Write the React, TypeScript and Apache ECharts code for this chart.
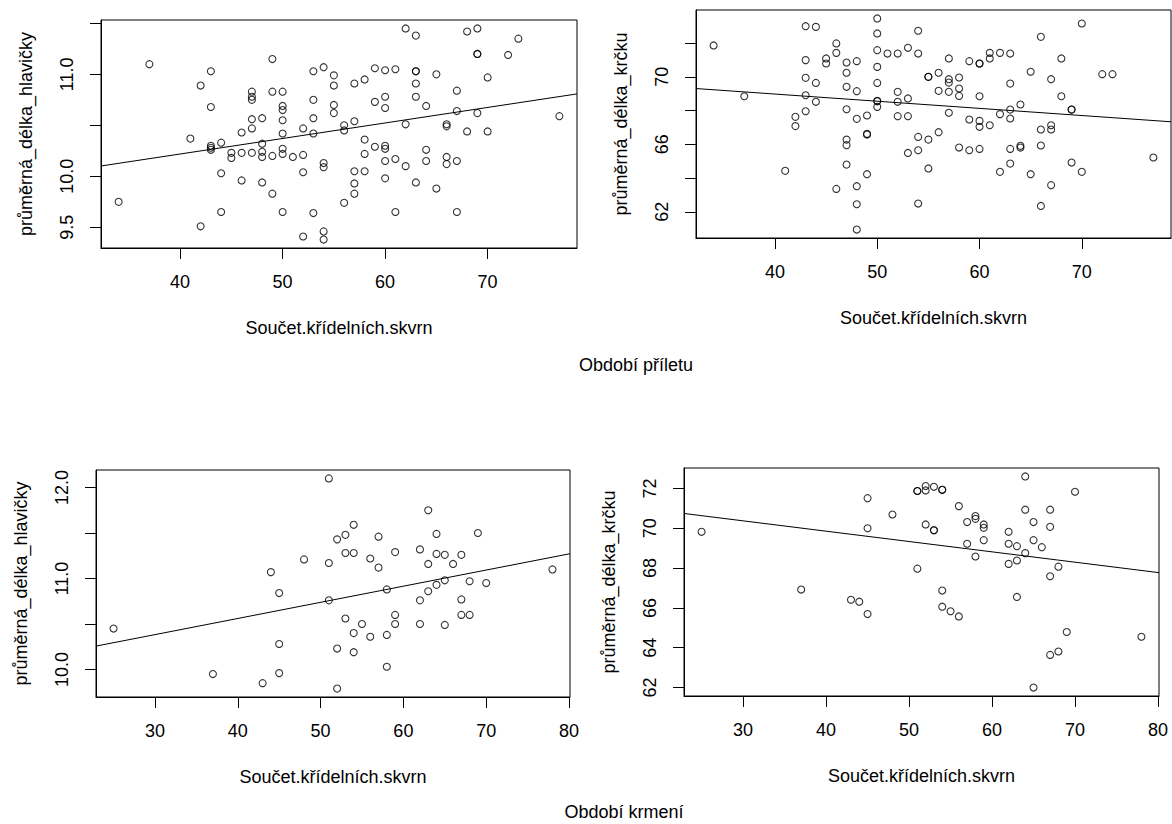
import React, { useEffect, useRef } from 'react';
import * as echarts from 'echarts';

const FONT = '"Liberation Sans", Arial, Helvetica, sans-serif';
const INK = '#000';

const X_TITLE = 'Součet.křídelních.skvrn';
const Y_HEAD = 'průměrná_délka_hlavičky';
const Y_NECK = 'průměrná_délka_krčku';
const TOP_CAPTION = 'Období příletu';
const BOTTOM_CAPTION = 'Období krmení';

// Období příletu – head length vs wing spot sum
const ARRIVAL_HEAD: [number, number][] = [
  [34, 9.75], [37, 11.1], [41, 10.37], [42, 10.89], [42, 9.51], [43, 11.03], [43, 10.68], [43, 10.3], [43, 10.28], [43, 10.26],
  [44, 10.33], [44, 10.03], [44, 9.65], [45, 10.23], [45, 10.18], [46, 10.43], [46, 10.23], [46, 9.96], [47, 10.83], [47, 10.78],
  [47, 10.75], [47, 10.56], [47, 10.47], [47, 10.23], [48, 10.57], [48, 10.32], [48, 10.24], [48, 10.19], [48, 9.94], [49, 11.15],
  [49, 10.83], [49, 10.2], [49, 9.83], [50, 10.83], [50, 10.69], [50, 10.65], [50, 10.55], [50, 10.42], [50, 10.27], [50, 10.22],
  [50, 9.65], [51, 10.19], [52, 10.47], [52, 10.21], [52, 10.04], [52, 9.41], [53, 11.03], [53, 10.75], [53, 10.57], [53, 10.42],
  [53, 9.64], [54, 11.07], [54, 10.13], [54, 10.09], [54, 9.46], [54, 9.38], [55, 10.99], [55, 10.89], [55, 10.7], [55, 10.62],
  [56, 10.5], [56, 10.45], [56, 9.74], [57, 10.91], [57, 10.54], [57, 10.05], [57, 9.93], [57, 9.83], [58, 10.95], [58, 10.36],
  [58, 10.22], [58, 10.05], [59, 11.06], [59, 10.73], [59, 10.29], [60, 11.04], [60, 10.78], [60, 10.67], [60, 10.3], [60, 10.27],
  [60, 10.15], [60, 9.98], [61, 11.05], [61, 10.17], [61, 9.65], [62, 11.45], [62, 10.51], [62, 10.1], [63, 11.38], [63, 11.03],
  [63, 11.03], [63, 10.91], [63, 10.78], [63, 9.94], [64, 10.69], [64, 10.26], [64, 10.15], [65, 11.0], [65, 9.88], [66, 10.51],
  [66, 10.49], [66, 10.19], [66, 10.12], [67, 10.84], [67, 10.64], [67, 10.15], [67, 9.65], [68, 11.42], [68, 10.44], [69, 11.45],
  [69, 11.2], [69, 11.2], [69, 10.62], [70, 10.97], [70, 10.44], [72, 11.19], [73, 11.35], [77, 10.59],
];

// Období příletu – neck length vs wing spot sum
const ARRIVAL_NECK: [number, number][] = [
  [34, 71.86], [37, 68.85], [41, 64.43], [42, 67.63], [42, 67.08], [43, 73.0], [43, 70.99], [43, 69.94], [43, 68.91], [43, 67.96],
  [44, 72.96], [44, 69.64], [44, 68.52], [45, 71.09], [45, 70.79], [46, 71.98], [46, 71.42], [46, 63.36], [47, 70.85], [47, 70.24],
  [47, 69.41], [47, 68.08], [47, 66.28], [47, 65.95], [47, 64.8], [48, 70.93], [48, 69.15], [48, 67.51], [48, 63.52], [48, 62.45],
  [48, 60.95], [49, 67.71], [49, 66.62], [49, 66.58], [49, 64.23], [50, 73.46], [50, 72.57], [50, 71.58], [50, 70.59], [50, 69.64],
  [50, 68.58], [50, 68.55], [50, 68.22], [51, 71.38], [52, 71.38], [52, 69.11], [52, 68.52], [52, 67.67], [53, 71.72], [53, 68.72],
  [53, 67.67], [53, 65.49], [54, 72.73], [54, 71.38], [54, 66.44], [54, 65.65], [54, 62.49], [55, 70.0], [55, 70.0], [55, 66.28],
  [55, 64.57], [56, 70.24], [56, 69.17], [56, 66.72], [57, 71.09], [57, 69.86], [57, 69.66], [57, 69.11], [57, 67.87], [58, 69.96],
  [58, 69.31], [58, 68.87], [58, 65.81], [59, 70.93], [59, 67.47], [59, 65.65], [60, 70.79], [60, 70.79], [60, 68.85], [60, 67.39],
  [60, 67.04], [60, 65.73], [61, 71.42], [61, 71.09], [61, 67.13], [62, 71.42], [62, 67.79], [62, 64.37], [63, 71.38], [63, 69.6],
  [63, 68.06], [63, 67.53], [63, 65.73], [63, 64.86], [64, 68.36], [64, 65.91], [64, 65.81], [65, 70.3], [65, 64.23], [66, 72.37],
  [66, 66.88], [66, 65.93], [66, 62.35], [67, 69.86], [67, 67.13], [67, 66.88], [67, 63.58], [68, 71.09], [68, 68.85], [69, 68.06],
  [69, 68.06], [69, 64.92], [70, 73.16], [70, 64.37], [72, 70.16], [73, 70.16], [77, 65.22],
];

// Období krmení – head length vs wing spot sum
const FEEDING_HEAD: [number, number][] = [
  [25, 10.45], [37, 9.95], [43, 9.85], [44, 11.07], [45, 10.84], [45, 10.28], [45, 9.96], [48, 11.21], [51, 12.1], [51, 11.17],
  [51, 10.76], [52, 11.43], [52, 10.23], [52, 9.79], [53, 11.48], [53, 11.28], [53, 10.56], [54, 11.59], [54, 11.28], [54, 10.4],
  [54, 10.19], [55, 10.5], [56, 11.22], [56, 10.36], [57, 11.46], [57, 11.12], [58, 10.88], [58, 10.38], [58, 10.03], [59, 11.29],
  [59, 10.6], [59, 10.5], [62, 11.32], [62, 10.76], [62, 10.5], [63, 11.75], [63, 11.16], [63, 10.86], [64, 11.49], [64, 11.27],
  [64, 10.93], [65, 11.26], [65, 10.98], [65, 10.49], [66, 11.16], [67, 11.26], [67, 10.77], [67, 10.6], [68, 10.6], [68, 10.97],
  [69, 11.5], [70, 10.95], [78, 11.1],
];

// Období krmení – neck length vs wing spot sum
const FEEDING_NECK: [number, number][] = [
  [25, 69.82], [37, 66.92], [43, 66.41], [44, 66.31], [45, 71.51], [45, 70.0], [45, 65.69], [48, 70.69], [51, 71.87], [51, 71.87],
  [51, 67.97], [52, 72.12], [52, 71.9], [52, 70.19], [53, 72.08], [53, 69.9], [53, 69.9], [54, 71.93], [54, 71.93], [54, 66.87],
  [54, 66.06], [55, 65.83], [56, 71.11], [56, 65.57], [57, 70.31], [57, 69.22], [58, 70.61], [58, 70.47], [58, 68.58], [59, 70.19],
  [59, 70.02], [59, 69.4], [62, 69.82], [62, 69.22], [62, 68.21], [63, 69.1], [63, 68.38], [63, 66.55], [64, 72.6], [64, 70.93],
  [64, 68.75], [65, 70.31], [65, 69.4], [65, 62.0], [66, 69.05], [67, 70.93], [67, 70.07], [67, 67.59], [67, 63.64], [68, 68.07],
  [68, 63.81], [69, 64.79], [70, 71.83], [78, 64.55],
];

// regression lines (intercept, slope)
const LINE_ARRIVAL_HEAD = [9.61, 0.01522];
const LINE_ARRIVAL_NECK = [70.675, -0.0424];
const LINE_FEEDING_HEAD = [9.851, 0.01774];
const LINE_FEEDING_NECK = [71.928, -0.0519];

// tick values
const X_TICKS_ARRIVAL = [40, 50, 60, 70];
const X_TICKS_FEEDING = [30, 40, 50, 60, 70, 80];
const Y_TICKS_ARRIVAL_HEAD = [9.5, 10, 10.5, 11, 11.5];
const Y_LABELS_ARRIVAL_HEAD = [9.5, 10, 11];
const Y_TICKS_ARRIVAL_NECK = [62, 64, 66, 68, 70, 72];
const Y_LABELS_ARRIVAL_NECK = [62, 66, 70];
const Y_TICKS_FEEDING_HEAD = [10, 10.5, 11, 11.5, 12];
const Y_LABELS_FEEDING_HEAD = [10, 11, 12];
const Y_TICKS_FEEDING_NECK = [62, 64, 66, 68, 70, 72];
const Y_LABELS_FEEDING_NECK = [62, 64, 66, 68, 70, 72];

// R-style axis range: data range extended by 4% on each side
function rRange(vals: number[]) {
  const lo = Math.min(...vals);
  const hi = Math.max(...vals);
  const pad = (hi - lo) * 0.04;
  return [lo - pad, hi + pad];
}

const PANELS = [
  { data: ARRIVAL_HEAD, line: LINE_ARRIVAL_HEAD, xTicks: X_TICKS_ARRIVAL, yTicks: Y_TICKS_ARRIVAL_HEAD, yLabels: Y_LABELS_ARRIVAL_HEAD, yName: Y_HEAD, dec: 1,
    grid: { left: 101, top: 20, width: 476, height: 228 } },
  { data: ARRIVAL_NECK, line: LINE_ARRIVAL_NECK, xTicks: X_TICKS_ARRIVAL, yTicks: Y_TICKS_ARRIVAL_NECK, yLabels: Y_LABELS_ARRIVAL_NECK, yName: Y_NECK, dec: 0,
    grid: { left: 696, top: 10, width: 475, height: 228 } },
  { data: FEEDING_HEAD, line: LINE_FEEDING_HEAD, xTicks: X_TICKS_FEEDING, yTicks: Y_TICKS_FEEDING_HEAD, yLabels: Y_LABELS_FEEDING_HEAD, yName: Y_HEAD, dec: 1,
    grid: { left: 96, top: 470, width: 474, height: 227 } },
  { data: FEEDING_NECK, line: LINE_FEEDING_NECK, xTicks: X_TICKS_FEEDING, yTicks: Y_TICKS_FEEDING_NECK, yLabels: Y_LABELS_FEEDING_NECK, yName: Y_NECK, dec: 0,
    grid: { left: 684, top: 468, width: 475, height: 228 } },
];

const textStyle = { color: INK, fontSize: 18, fontFamily: FONT };

function buildOption() {
  const grid: any[] = [];
  const xAxis: any[] = [];
  const yAxis: any[] = [];
  const series: any[] = [];
  PANELS.forEach((p, i) => {
    const [xMin, xMax] = rRange(p.data.map((d) => d[0]));
    const [yMin, yMax] = rRange(p.data.map((d) => d[1]));
    grid.push({ ...p.grid, show: true, borderColor: INK, borderWidth: 1, backgroundColor: 'transparent' });
    xAxis.push({
      type: 'value', gridIndex: i, min: xMin, max: xMax,
      axisLine: { show: true, onZero: false, lineStyle: { color: INK, width: 1 } },
      axisTick: { show: true, inside: false, length: 11, customValues: p.xTicks, lineStyle: { color: INK, width: 1 } },
      axisLabel: { ...textStyle, customValues: p.xTicks, margin: 25, formatter: (v: number) => String(v) },
      splitLine: { show: false },
      name: X_TITLE, nameLocation: 'middle', nameGap: 71, nameTextStyle: textStyle,
    });
    yAxis.push({
      type: 'value', gridIndex: i, min: yMin, max: yMax,
      axisLine: { show: true, onZero: false, lineStyle: { color: INK, width: 1 } },
      axisTick: { show: true, inside: false, length: 11, customValues: p.yTicks, lineStyle: { color: INK, width: 1 } },
      axisLabel: { ...textStyle, customValues: p.yLabels, rotate: 90, margin: 25, formatter: (v: number) => v.toFixed(p.dec) },
      splitLine: { show: false },
      name: p.yName, nameLocation: 'middle', nameRotate: 90, nameGap: 66, nameTextStyle: textStyle,
    });
    series.push({
      type: 'scatter', xAxisIndex: i, yAxisIndex: i, data: p.data,
      symbol: 'circle', symbolSize: 7,
      itemStyle: { color: 'rgba(0,0,0,0)', borderColor: INK, borderWidth: 1.1 },
      silent: true,
    });
    const [a, b] = p.line;
    series.push({
      type: 'line', xAxisIndex: i, yAxisIndex: i,
      data: [[xMin, a + b * xMin], [xMax, a + b * xMax]],
      symbol: 'none', lineStyle: { color: INK, width: 1 }, clip: true, silent: true,
    });
  });
  return {
    animation: false,
    backgroundColor: '#fff',
    grid, xAxis, yAxis, series,
    graphic: [
      { type: 'text', x: 636, y: 365, style: { text: TOP_CAPTION, fill: INK, font: `18px ${FONT}`, align: 'center', verticalAlign: 'middle' } },
      { type: 'text', x: 624, y: 812, style: { text: BOTTOM_CAPTION, fill: INK, font: `18px ${FONT}`, align: 'center', verticalAlign: 'middle' } },
    ],
  };
}

export default function App() {
  const ref = useRef<HTMLDivElement>(null);
  useEffect(() => {
    if (!ref.current) return;
    const chart = echarts.init(ref.current, undefined, { renderer: 'svg' });
    chart.setOption(buildOption() as any);
    return () => chart.dispose();
  }, []);
  return <div ref={ref} style={{ position: 'absolute', left: 0, top: 0, width: 1172, height: 824, background: '#fff' }} />;
}
